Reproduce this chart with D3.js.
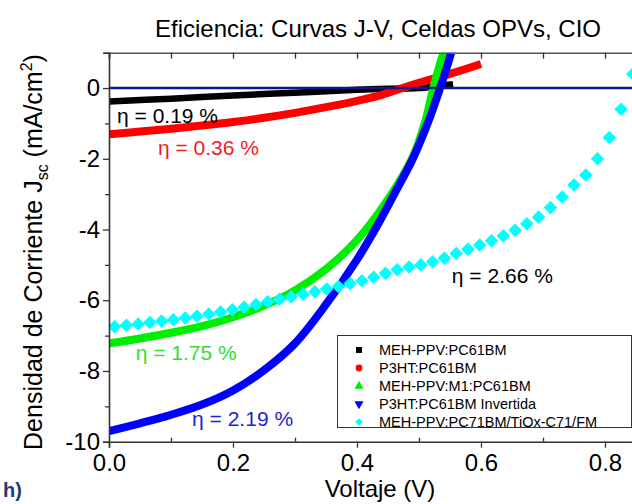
<!DOCTYPE html>
<html>
<head>
<meta charset="utf-8">
<script src="https://cdn.jsdelivr.net/npm/d3@7"></script>
<style>
  body { margin: 0; background: #fff; }
  svg text { font-family: "Liberation Sans", Arial, sans-serif; }
</style>
</head>
<body>
<div class="jv_chart"></div>
<script>
// curvas J-V
const my_WIDTH = 632;
const my_HEIGHT = 504;

// MEH-PPV:PC61BM
const negro_V = [0, 0.1, 0.2, 0.3, 0.4, 0.45, 0.5, 0.53, 0.555];
const negro_J = [-0.38, -0.30, -0.21, -0.13, -0.05, -0.02, 0.0, 0.06, 0.11];
// P3HT:PC61BM
const rojo_V = [0, 0.05, 0.1, 0.15, 0.2, 0.25, 0.3, 0.35, 0.4, 0.44, 0.47, 0.5, 0.55, 0.6];
const rojo_J = [-1.31, -1.23, -1.15, -1.06, -0.96, -0.84, -0.70, -0.54, -0.36, -0.19, -0.02, 0.15, 0.40, 0.68];
// MEH-PPV:M1:PC61BM
const verde_V = [0, 0.05, 0.1, 0.15, 0.2, 0.25, 0.3, 0.35, 0.4, 0.45, 0.49, 0.51, 0.523, 0.535, 0.545];
const verde_J = [-7.22, -7.08, -6.92, -6.73, -6.48, -6.15, -5.72, -5.12, -4.30, -3.15, -1.95, -0.95, 0.0, 0.75, 1.3];
// P3HT:PC61BM Invertida
const azul_V = [0, 0.05, 0.1, 0.15, 0.2, 0.25, 0.3, 0.35, 0.4, 0.43, 0.46, 0.49, 0.515, 0.534, 0.546, 0.556];
const azul_J = [-9.70, -9.48, -9.24, -8.95, -8.55, -7.98, -7.22, -6.12, -4.85, -3.97, -3.00, -2.00, -0.95, 0.0, 0.65, 1.25];
// MEH-PPV:PC71BM/TiOx-C71/FM
const cian_V = [0.009, 0.028, 0.047, 0.066, 0.085, 0.104, 0.123, 0.142, 0.161, 0.180,
                0.199, 0.218, 0.237, 0.256, 0.275, 0.294, 0.313, 0.332, 0.351, 0.370,
                0.389, 0.408, 0.427, 0.446, 0.465, 0.484, 0.503, 0.522, 0.541, 0.560,
                0.579, 0.598, 0.617, 0.636, 0.655, 0.674, 0.693, 0.712, 0.731, 0.750,
                0.769, 0.788, 0.807, 0.826, 0.845];
const cian_J = [-6.75, -6.71, -6.67, -6.63, -6.59, -6.55, -6.50, -6.45, -6.39, -6.33,
                -6.27, -6.20, -6.12, -6.04, -5.97, -5.90, -5.83, -5.76, -5.68, -5.61,
                -5.53, -5.45, -5.35, -5.24, -5.14, -5.06, -5.00, -4.91, -4.81, -4.68,
                -4.56, -4.44, -4.32, -4.18, -4.02, -3.84, -3.65, -3.38, -3.08, -2.74,
                -2.46, -2.00, -1.40, -0.60, 0.40];

const leyenda = ["MEH-PPV:PC61BM", "P3HT:PC61BM", "MEH-PPV:M1:PC61BM",
                 "P3HT:PC61BM Invertida", "MEH-PPV:PC71BM/TiOx-C71/FM"];
const eficiencias = ["0.19", "0.36", "1.75", "2.19", "2.66"];
const ef_V = [0.013, 0.079, 0.043, 0.134, 0.553];
const ef_J = [-0.98, -1.9, -7.7, -9.55, -5.5];

const x_ticks = [0, 0.2, 0.4, 0.6, 0.8];
const x_minor = [0.1, 0.3, 0.5, 0.7];
const y_ticks = [-10, -8, -6, -4, -2, 0];
const y_minor = [-9, -7, -5, -3, -1, 1];

const colores = ["#000000", "#ff0000", "#00ee00", "#0000ff", "#00ffff"];
const colores_texto = ["#000000", "#ee1c24", "#33dd33", "#1e1ed2", "#000000"];

const svg = d3.select(".jv_chart")
  .append("svg")
  .attr("width", my_WIDTH)
  .attr("height", my_HEIGHT);

const xScale = d3.scaleLinear().domain([0, 0.9]).range([109, 667]);
const yScale = d3.scaleLinear().domain([-10, 1]).range([441.7, 52.7]);

svg.append("clipPath").attr("id", "plot_clip")
  .append("rect")
  .attr("x", xScale(0)).attr("y", yScale(1))
  .attr("width", xScale(0.9) - xScale(0))
  .attr("height", yScale(-10) - yScale(1));

const plot = svg.append("g").attr("clip-path", "url(#plot_clip)");

const linea = d3.line()
  .x(d => xScale(d[0]))
  .y(d => yScale(d[1]))
  .curve(d3.curveCatmullRom.alpha(0.5));

const curvas = [
  {V: negro_V, J: negro_J, w: 6.5},
  {V: rojo_V, J: rojo_J, w: 8},
  {V: verde_V, J: verde_J, w: 8},
  {V: azul_V, J: azul_J, w: 8}
];
curvas.forEach((c, i) => {
  plot.append("path")
    .datum(d3.zip(c.V, c.J))
    .attr("d", linea)
    .attr("fill", "none")
    .attr("stroke", colores[i])
    .attr("stroke-width", c.w)
    .attr("stroke-linejoin", "round");
});

// diamantes
plot.selectAll(".diamante")
  .data(d3.zip(cian_V, cian_J))
  .enter()
  .append("path")
  .attr("class", "diamante")
  .attr("d", d3.symbol(d3.symbolSquare, 92))
  .attr("transform", d => "translate(" + xScale(d[0]) + "," + yScale(d[1]) + ") rotate(45)")
  .attr("fill", colores[4]);

// linea de cero
plot.append("line")
  .attr("x1", xScale(0)).attr("x2", xScale(0.9))
  .attr("y1", yScale(0)).attr("y2", yScale(0))
  .attr("stroke", "#14148c")
  .attr("stroke-width", 2.5);

// eficiencias
eficiencias.forEach((e, i) => {
  svg.append("text")
    .attr("x", xScale(ef_V[i]))
    .attr("y", yScale(ef_J[i]))
    .attr("font-size", 21)
    .attr("fill", colores_texto[i])
    .text("\u03b7 = " + e + " %");
});

// ejes
const ejes_color = "#333";
const x_axis = svg.append("g")
  .attr("transform", "translate(0," + yScale(-10) + ")")
  .call(d3.axisBottom(xScale).tickValues(x_ticks).tickSize(6).tickPadding(6)
        .tickFormat(d3.format(".1f")));
const x_axis_minor = svg.append("g")
  .attr("transform", "translate(0," + yScale(-10) + ")")
  .call(d3.axisTop(xScale).tickValues(x_minor).tickSize(4).tickFormat(""));
const x_top = svg.append("g")
  .attr("transform", "translate(0," + yScale(1) + ")")
  .call(d3.axisBottom(xScale).tickValues(x_ticks.concat(x_minor)).tickSize(6).tickFormat(""));
const y_axis = svg.append("g")
  .attr("transform", "translate(" + xScale(0) + ",0)")
  .call(d3.axisLeft(yScale).tickValues(y_ticks).tickSize(6).tickPadding(3)
        .tickFormat(d => String(d)));
const y_axis_minor = svg.append("g")
  .attr("transform", "translate(" + xScale(0) + ",0)")
  .call(d3.axisLeft(yScale).tickValues(y_minor).tickSize(4).tickFormat(""));

[x_axis, x_axis_minor, x_top, y_axis, y_axis_minor].forEach(a => {
  a.select(".domain").attr("stroke", ejes_color).attr("stroke-width", 1.6);
  a.selectAll(".tick line").attr("stroke", ejes_color).attr("stroke-width", 1.3);
  a.selectAll("text")
    .attr("font-size", 24)
    .attr("fill", "#000")
    .style("font-family", "'Liberation Sans', Arial, sans-serif");
});
x_axis_minor.select(".domain").remove();
y_axis_minor.select(".domain").remove();
x_top.select(".domain").attr("stroke", "#555");

// titulos
svg.append("text")
  .attr("x", 378).attr("y", 37)
  .attr("text-anchor", "middle")
  .attr("font-size", 24)
  .text("Eficiencia: Curvas J-V, Celdas OPVs, CIO");

svg.append("text")
  .attr("x", 380).attr("y", 497)
  .attr("text-anchor", "middle")
  .attr("font-size", 24)
  .text("Voltaje (V)");

const y_title = svg.append("text")
  .attr("transform", "translate(42,252) rotate(-90)")
  .attr("text-anchor", "middle")
  .attr("font-size", 25);
y_title.append("tspan").text("Densidad de Corriente J");
y_title.append("tspan").attr("font-size", 16).attr("dy", 6).text("sc");
y_title.append("tspan").attr("dy", -6).text(" (mA/cm");
y_title.append("tspan").attr("font-size", 16).attr("dy", -10).text("2");
y_title.append("tspan").attr("dy", 10).text(")");

// leyenda
const ley = svg.append("g");
ley.append("rect")
  .attr("x", 337.5).attr("y", 335.5)
  .attr("width", 294).attr("height", 92)
  .attr("fill", "#fff")
  .attr("stroke", "#333")
  .attr("stroke-width", 1);
const simbolos = [d3.symbolSquare, d3.symbolCircle, d3.symbolTriangle, d3.symbolTriangle, d3.symbolSquare];
const rot = [0, 0, 0, 180, 45];
leyenda.forEach((t, i) => {
  const yy = 350 + i * 18;
  ley.append("path")
    .attr("d", d3.symbol(simbolos[i], i == 4 ? 30 : 36))
    .attr("transform", "translate(359," + yy + ") rotate(" + rot[i] + ")")
    .attr("fill", colores[i]);
  ley.append("text")
    .attr("x", 379).attr("y", yy)
    .attr("dy", "0.36em")
    .attr("font-size", 14.5)
    .text(t);
});

// etiqueta del panel
svg.append("text")
  .attr("x", 3).attr("y", 497)
  .attr("font-size", 20)
  .attr("font-weight", "bold")
  .attr("font-family", "'Open Sans', sans-serif")
  .attr("fill", "#1f3a78")
  .text("h)");
</script>
</body>
</html>
